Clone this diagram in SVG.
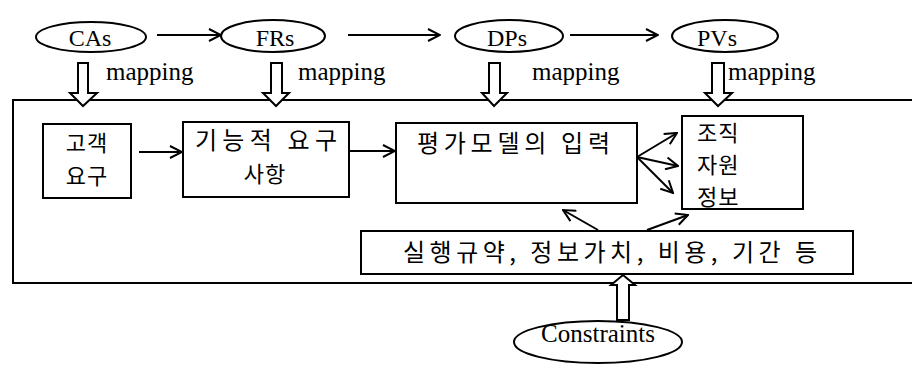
<svg xmlns="http://www.w3.org/2000/svg" width="912" height="367" viewBox="0 0 912 367">
<style>
.box{fill:#fff;stroke:#000;stroke-width:2}
.ell{fill:#fff;stroke:#000;stroke-width:2}
.blk{fill:#fff;stroke:#000;stroke-width:2;stroke-linejoin:miter}
.ln{fill:none;stroke:#000;stroke-width:2;marker-end:url(#ah)}
</style>
<defs>
<marker id="ah" viewBox="0 0 14 14" refX="13" refY="7" markerWidth="14" markerHeight="14" markerUnits="userSpaceOnUse" orient="auto">
<path d="M1,1 L13,7 L1,13" fill="none" stroke="#000" stroke-width="2"/>
</marker>
</defs>
<rect width="912" height="367" fill="#fff"/>
<g id="main-frame"><rect class="box" x="13" y="100" width="920" height="183"/></g>
<g font-family="'Liberation Serif', 'DejaVu Serif', serif" font-size="24" fill="#000">
<g id="CAs"><ellipse class="ell" cx="91" cy="37" rx="55" ry="15"/><text x="90" y="46" text-anchor="middle">CAs</text></g>
<g id="FRs"><ellipse class="ell" cx="273" cy="36" rx="52" ry="16"/><text x="275" y="46" text-anchor="middle">FRs</text></g>
<g id="DPs"><ellipse class="ell" cx="509" cy="36" rx="54" ry="16"/><text x="507" y="46" text-anchor="middle">DPs</text></g>
<g id="PVs"><ellipse class="ell" cx="725" cy="36" rx="53" ry="16"/><text x="717" y="46" text-anchor="middle">PVs</text></g>
<g id="constraints"><ellipse class="ell" cx="598" cy="342" rx="84" ry="21"/><text x="598" y="342" text-anchor="middle" font-size="25">Constraints</text></g>
</g>
<g font-family="'Noto Sans CJK KR', 'Noto Sans', sans-serif" font-size="24" fill="#000">
<g id="customer"><rect class="box" x="43" y="124" width="88" height="74"/><text x="87" y="151" text-anchor="middle" font-size="22" letter-spacing="1">고객</text><text x="87" y="184" text-anchor="middle" font-size="22" letter-spacing="1">요구</text></g>
<g id="functional"><rect class="box" x="183" y="122" width="166" height="75"/><text x="266" y="149" text-anchor="middle" textLength="142" lengthAdjust="spacing">기능적 요구</text><text x="265" y="182" text-anchor="middle" font-size="22" letter-spacing="1">사항</text></g>
<g id="input"><rect class="box" x="396" y="123" width="241" height="80"/><text x="417" y="152" textLength="193" lengthAdjust="spacing">평가모델의 입력</text></g>
<g id="resources"><rect class="box" x="682" y="116" width="121" height="93"/><text x="697" y="141" font-size="22" letter-spacing="1">조직</text><text x="697" y="173" font-size="22" letter-spacing="1">자원</text><text x="697" y="205" font-size="22" letter-spacing="1">정보</text></g>
<g id="rules"><rect class="box" x="361" y="231" width="492" height="43"/><text x="403" y="261" textLength="414" lengthAdjust="spacing">실행규약, 정보가치, 비용, 기간 등</text></g>
</g>
<g id="connectors">
<line class="ln" x1="157" y1="35" x2="221" y2="35"/>
<line class="ln" x1="348" y1="35" x2="440" y2="35"/>
<line class="ln" x1="570" y1="35" x2="658" y2="35"/>
<line class="ln" x1="139" y1="152" x2="182" y2="152"/>
<line class="ln" x1="349" y1="151" x2="395" y2="151"/>
<line class="ln" x1="637" y1="157" x2="677" y2="133"/>
<line class="ln" x1="637" y1="157" x2="678" y2="166"/>
<line class="ln" x1="637" y1="157" x2="673" y2="193"/>
<line class="ln" x1="598" y1="230" x2="563" y2="210"/>
<line class="ln" x1="647" y1="230" x2="688" y2="215"/>
<polygon class="blk" points="78,63 88,63 88,93 97,93 83,106 70,93 78,93"/>
<polygon class="blk" points="271,63 282,63 282,93 289,93 276,106 263,93 271,93"/>
<polygon class="blk" points="489,63 500,63 500,93 507,93 494,106 482,93 489,93"/>
<polygon class="blk" points="712,63 724,63 724,93 732,93 718,106 705,93 712,93"/>
<polygon class="blk" points="617,320 629,320 629,285 635,285 623,275 611,285 617,285"/>
<g font-family="'Liberation Serif', 'DejaVu Serif', serif" font-size="25" fill="#000">
<text x="106" y="80">mapping</text>
<text x="298" y="80">mapping</text>
<text x="532" y="80">mapping</text>
<text x="728" y="80">mapping</text>
</g>
</g>
</svg>
